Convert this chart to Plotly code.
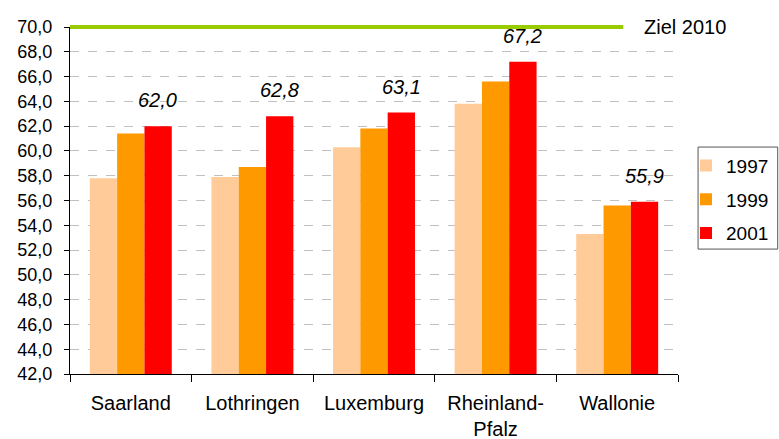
import plotly.graph_objects as go

categories = ["Saarland", "Lothringen", "Luxemburg", "Rheinland-<br>Pfalz", "Wallonie"]
years = ["1997", "1999", "2001"]
values_1997 = [57.8, 57.9, 60.3, 63.8, 53.3]
values_1999 = [61.4, 58.7, 61.8, 65.6, 55.6]
values_2001 = [62.0, 62.8, 63.1, 67.2, 55.9]
colors = ["#FFCC99", "#FF9900", "#FF0000"]
target_value = 70.0
target_label = "Ziel 2010"
y_ticks = [42 + 2 * i for i in range(15)]

FONT = "Liberation Sans, Arial, sans-serif"

fig = go.Figure()
for name, vals, col in zip(years, [values_1997, values_1999, values_2001], colors):
    fig.add_trace(go.Bar(
        x=categories, y=vals, name=name, marker=dict(color=col, line=dict(width=0)),
        legendgroup=name,
    ))

# data labels on the 2001 series
for c, v in zip(categories, values_2001):
    fig.add_annotation(
        x=c, y=v, xref="x", yref="y", text=f"{v:.1f}".replace(".", ","),
        showarrow=False, xshift=27, yshift=13, yanchor="bottom",
        font=dict(family=FONT, size=20, color="black", style="italic"),
    )

# target line
fig.add_shape(type="line", xref="paper", yref="paper", x0=0, x1=0.91, y0=1, y1=1,
              line=dict(color="#99CC00", width=4), layer="above")
fig.add_annotation(x=0.941, y=1, xref="paper", yref="paper", text=target_label,
                   showarrow=False, xanchor="left", yanchor="middle",
                   font=dict(family=FONT, size=20, color="black"))

# legend frame
fig.add_shape(type="rect", xref="paper", yref="paper", x0=1.033, x1=1.164, y0=0.360, y1=0.654,
              line=dict(color="#555555", width=1), fillcolor="rgba(0,0,0,0)", layer="above")

fig.update_layout(
    width=779, height=439,
    margin=dict(l=70, r=101, t=27, b=65),
    paper_bgcolor="white", plot_bgcolor="white",
    barmode="group", bargap=0.326, bargroupgap=0,
    separators=", ",
    font=dict(family=FONT, color="black"),
    showlegend=True,
    legend=dict(x=686 / 779, xref="container", xanchor="left", y=0.655, yanchor="top",
                borderwidth=0, bgcolor="rgba(0,0,0,0)",
                font=dict(family=FONT, size=19, color="black"),
                tracegroupgap=6, itemwidth=30),
)
fig.update_xaxes(
    showline=True, linecolor="black", linewidth=1,
    ticks="outside", tickson="boundaries", ticklen=7, tickcolor="black",
    tickfont=dict(family=FONT, size=20, color="black"),
    ticklabelstandoff=11, automargin=False,
    showgrid=False,
)
fig.update_yaxes(
    range=[42, 70], tickvals=y_ticks, tickformat=".1f",
    showline=True, linecolor="black", linewidth=1,
    ticks="outside", ticklen=5, tickcolor="black",
    tickfont=dict(family=FONT, size=18, color="black"),
    ticklabelstandoff=8, automargin=False,
    showgrid=True, gridcolor="#C0C0C0", griddash="dash", gridwidth=1,
    zeroline=False,
)

fig.write_html("out.html", config={"displayModeBar": False},
               post_script="document.body.style.margin='0';")
